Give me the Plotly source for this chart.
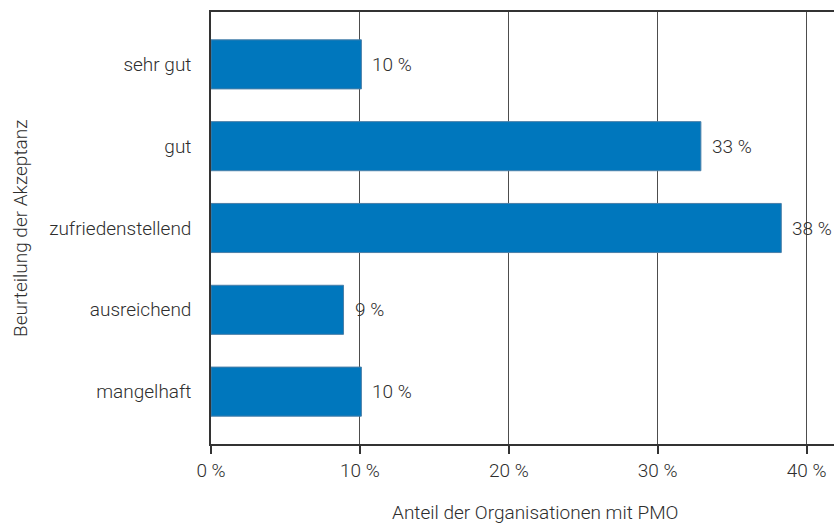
import plotly.graph_objects as go

# Ratings and share of organisations with a PMO (percent)
categories = ["sehr gut", "gut", "zufriedenstellend", "ausreichend", "mangelhaft"]
shares = [10.1, 32.9, 38.3, 8.9, 10.1]
tick_values = [0, 10, 20, 30, 40]
tick_labels = ["0 %", "10 %", "20 %", "30 %", "40 %"]

FONT = "Roboto, Arial, sans-serif"
SIZE = 19
TEXT = "#2e2e2e"
BAR = "#0077bd"
font = dict(family=FONT, size=SIZE, color=TEXT, weight=300)

fig = go.Figure()
fig.add_trace(go.Bar(
    y=categories,
    x=shares,
    orientation="h",
    width=0.6,
    marker=dict(color=BAR, line=dict(color="#4a7fa8", width=1)),
    hoverinfo="skip",
))

# value labels to the right of each bar
for cat, val in zip(categories, shares):
    fig.add_annotation(
        x=val, y=cat, xref="x", yref="y",
        text=f"{val:.0f} %", showarrow=False,
        xanchor="left", yanchor="middle", xshift=9,
        font=font,
    )

# axis titles
fig.add_annotation(
    x=0.5205, y=-0.158, xref="paper", yref="paper",
    text="Anteil der Organisationen mit PMO", showarrow=False,
    xanchor="center", yanchor="middle", font=font,
)
fig.add_annotation(
    x=-0.3066, y=0.5, xref="paper", yref="paper",
    text="Beurteilung der Akzeptanz", showarrow=False, textangle=-90,
    xanchor="center", yanchor="middle", font=font,
)

fig.update_layout(
    width=834, height=524,
    margin=dict(l=211, r=0, t=12, b=80),
    paper_bgcolor="white", plot_bgcolor="white",
    showlegend=False,
    font=font,
)
fig.update_xaxes(
    range=[0, 41.84],
    tickvals=tick_values, ticktext=tick_labels,
    showgrid=True, gridcolor="#4d4d4d", gridwidth=1,
    showline=True, linecolor="#333333", linewidth=1.5,
    mirror=True,
    ticks="outside", ticklen=8, tickcolor="#333333", tickwidth=1.5,
    zeroline=False, automargin=False,
    tickfont=font,
)
fig.update_yaxes(
    categoryorder="array", categoryarray=categories,
    range=[4.64, -0.64],
    showgrid=False, zeroline=False,
    showline=True, linecolor="#333333", linewidth=1.5,
    ticks="", ticklabelstandoff=14, automargin=False,
    tickfont=font,
)

fig.write_html("out.html")
